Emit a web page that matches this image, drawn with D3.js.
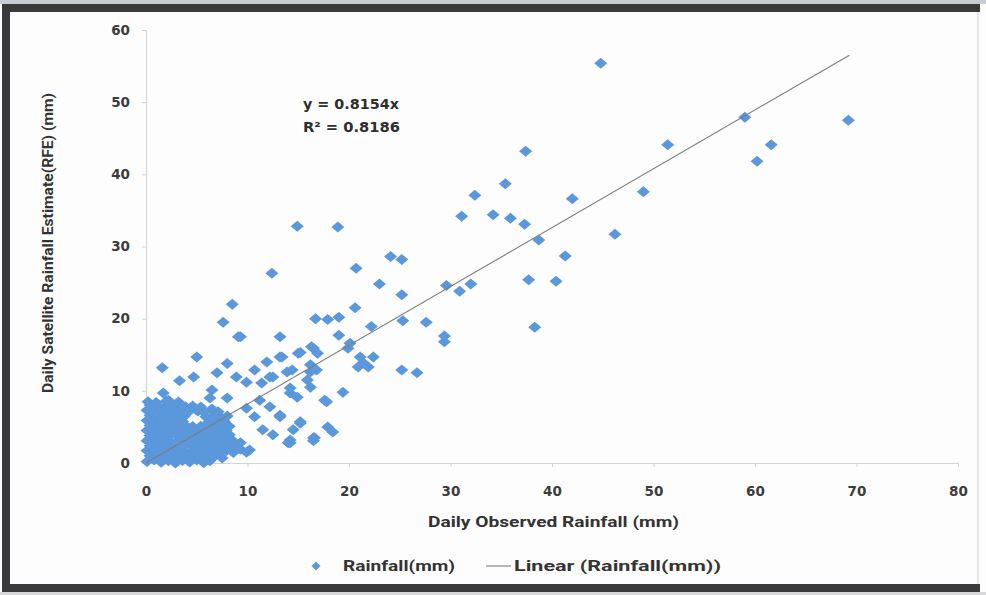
<!DOCTYPE html>
<html><head><meta charset="utf-8">
<script src="https://cdn.jsdelivr.net/npm/d3@7/dist/d3.min.js"></script>
<style>html,body{margin:0;padding:0;background:#fff;}svg{display:block;}</style>
</head><body>
<script>
// ---- data ----
const xTicks = [0,10,20,30,40,50,60,70,80];
const yTicks = [0,10,20,30,40,50,60];
const xTitle = "Daily Observed Rainfall (mm)";
const yTitle = "Daily Satellite Rainfall Estimate(RFE) (mm)";
const seriesName = "Rainfall(mm)";
const trendName = "Linear (Rainfall(mm))";
const slope = 0.8154;
const r2 = 0.8186;
const trendRange = [0, 69.3];

// observed (x) values
const obsX = [
 44.8,59.0,69.2,51.4,61.6,60.2,37.4,35.4,32.4,49.0,42.0,31.1,34.2,35.9,37.3,38.7,46.2,41.3,40.4,37.7,38.3,
 14.9,18.9,12.4,24.1,25.2,20.7,23.0,25.2,20.6,16.7,17.9,19.0,22.2,25.3,27.6,19.0,13.2,9.3,16.3,20.1,19.9,15.2,16.9,
 21.1,22.4,21.4,21.9,20.9,13.2,11.9,10.7,14.4,16.2,16.8,25.2,26.7,12.5,9.9,11.4,14.2,15.9,14.2,14.9,16.2,19.4,17.6,
 11.2,12.2,13.2,9.9,10.7,15.2,14.5,17.9,18.4,11.5,16.6,12.5,14.2,29.6,30.9,32.0,29.4,29.4,
 7.6,8.5,9.1,1.6,3.3,4.7,7.0,8.0,8.9,6.5,1.7,2.2,6.3,8.0,5.0,13.4,15.0,16.5,12.2,13.9,16.2,17.8,13.2,15.2,14.2,16.5,
 10.2,9.3,9.9,14.0,16.5,
 0.1,0.8,1.5,2.2,2.9,3.6,4.3,5.0,5.7,6.3,
 0.4,1.2,1.8,2.6,3.2,3.9,4.7,5.3,6.1,6.7,7.5,
 0.1,0.9,1.5,2.3,2.9,3.7,4.3,5.1,5.7,6.5,7.1,7.9,8.6,9.3,
 0.4,1.1,1.9,2.5,3.3,3.9,4.7,5.3,6.1,6.7,7.5,8.1,8.9,
 0.1,0.9,1.5,2.3,2.9,3.7,4.3,5.1,5.7,6.5,7.1,7.9,8.5,
 0.4,1.1,1.9,2.5,3.3,3.9,4.7,5.3,6.1,6.7,7.5,8.2,
 0.1,0.9,1.5,2.3,2.9,3.7,4.3,5.1,5.7,6.5,7.1,7.9,
 0.4,1.1,1.9,2.5,3.3,3.9,4.6,5.4,6.0,6.8,7.4,8.2,
 0.1,0.9,1.5,2.3,2.9,3.6,6.2,6.9,7.7,
 0.4,1.1,1.9,2.5,3.3,3.8,5.9,6.7,7.3,8.0,
 0.1,0.9,1.5,2.3,2.9,3.7,4.3,5.1,5.7,6.5,7.1,
 0.4,1.1,1.9,2.5,3.3,3.9,4.6,5.4,6.5,
 0.2,1.0,2.0,3.2
];
// satellite estimate (y) values
const rfeY = [
 55.4,47.9,47.5,44.1,44.1,41.8,43.2,38.7,37.1,37.6,36.6,34.2,34.4,33.9,33.1,30.9,31.7,28.7,25.2,25.4,18.8,
 32.8,32.7,26.3,28.6,28.2,27.0,24.8,23.3,21.5,20.0,19.9,20.2,18.9,19.7,19.5,17.7,17.5,17.5,16.1,16.6,15.9,15.3,15.2,
 14.7,14.7,13.9,13.3,13.3,14.7,14.0,12.9,12.9,13.6,12.9,12.9,12.5,11.9,11.2,11.1,10.4,11.5,9.7,9.1,10.5,9.8,8.7,
 8.7,7.8,6.6,7.6,6.4,5.5,4.6,5.0,4.3,4.6,3.5,3.9,2.8,24.6,23.8,24.8,17.6,16.8,
 19.5,22.0,17.5,13.2,11.4,11.9,12.5,13.8,11.9,10.1,9.7,8.7,9.0,9.0,14.7,14.7,15.2,15.9,11.9,12.6,12.6,8.5,6.4,5.7,3.2,3.5,
 1.8,2.8,1.5,2.8,3.1,
 0.2,0.4,0.1,0.3,0.0,0.35,0.15,0.4,0.05,0.3,
 1.0,0.8,1.1,0.7,1.0,0.85,1.1,0.75,1.0,0.9,0.7,
 1.7,1.5,1.8,1.5,1.6,1.8,1.4,1.65,1.5,1.8,1.55,1.7,1.45,1.9,
 2.4,2.2,2.5,2.3,2.15,2.45,2.3,2.2,2.5,2.25,2.4,2.2,2.45,
 3.1,2.9,3.2,3.0,2.85,3.15,3.0,2.9,3.2,2.95,3.1,2.9,3.15,
 3.8,3.6,3.75,3.9,3.6,3.8,3.65,3.85,3.6,3.8,3.7,3.9,
 4.5,4.3,4.55,4.35,4.5,4.3,4.45,4.6,4.35,4.5,4.3,4.5,
 5.2,5.0,5.15,5.25,5.0,5.2,5.05,5.1,5.25,5.0,5.2,5.1,
 5.9,5.7,5.85,5.75,5.95,5.8,5.7,5.9,5.8,
 6.6,6.4,6.55,6.45,6.6,6.5,6.4,6.6,6.45,6.5,
 7.3,7.1,7.25,7.15,7.3,7.1,7.25,7.2,7.05,7.3,7.1,
 8.0,7.8,7.95,7.85,8.0,7.8,7.9,7.75,7.5,
 8.5,8.4,8.6,8.45
];

// ---- layout ----
const W = 986, H = 595;
const svg = d3.select("body").append("svg").attr("width", W).attr("height", H);

// scanned frame
svg.append("rect").attr("x",0).attr("y",0).attr("width",W).attr("height",H).attr("fill","#fdfdfd");
svg.append("rect").attr("x",0).attr("y",0).attr("width",W).attr("height",4).attr("fill","#c9ccd2");
svg.append("rect").attr("x",2).attr("y",4).attr("width",W-8).attr("height",8).attr("fill","#3a3a3c");
svg.append("rect").attr("x",2).attr("y",4).attr("width",8).attr("height",588).attr("fill","#3a3a3c");
svg.append("rect").attr("x",2).attr("y",584).attr("width",W-8).attr("height",8).attr("fill","#3a3a3c");
svg.append("rect").attr("x",0).attr("y",592).attr("width",W).attr("height",3).attr("fill","#d8d8dc");
svg.append("rect").attr("x",977).attr("y",12).attr("width",2).attr("height",572).attr("fill","#e6e6e8");

const x = d3.scaleLinear().domain([0,80]).range([146,958]);
const y = d3.scaleLinear().domain([0,60]).range([463,30]);

const tickFont = "DejaVu Sans, Verdana, sans-serif";
const narrowFont = "Roboto, 'Liberation Sans', sans-serif";

// axes
const gx = svg.append("g").attr("transform",`translate(0,${y(0)})`)
  .call(d3.axisBottom(x).tickValues(xTicks).tickSize(4).tickPadding(19).tickFormat(d3.format("d")));
const gy = svg.append("g").attr("transform",`translate(${x(0)},0)`)
  .call(d3.axisLeft(y).tickValues(yTicks).tickSize(4).tickPadding(12).tickFormat(d3.format("d")));
[gx,gy].forEach(g=>{
  g.select(".domain").attr("stroke","#d4d4d4");
  g.selectAll(".tick line").attr("stroke","#d4d4d4");
  g.selectAll("text").attr("fill","#3c3c3c").attr("font-family",tickFont)
   .attr("font-weight","bold").attr("font-size",13.5);
});
gx.selectAll("text").attr("dy","0.71em");

// points
const pts = obsX.map((v,i)=>[v, rfeY[i]]);
const diamond = "M0,-5.5L6.5,0L0,5.5L-6.5,0Z";
svg.append("g").selectAll("path").data(pts).join("path")
  .attr("d",diamond)
  .attr("transform",d=>`translate(${x(d[0])},${y(d[1])})`)
  .attr("fill","#5b97db");

// trend line
svg.append("line")
  .attr("x1",x(trendRange[0])).attr("y1",y(slope*trendRange[0]))
  .attr("x2",x(trendRange[1])).attr("y2",y(slope*trendRange[1]))
  .attr("stroke","#7d7d7d").attr("stroke-width",1.1);

// text with a fixed drawn width (narrow Calibri-like look)
function label(parent, txt, attrs, width){
  const t = parent.append("text").text(txt);
  Object.entries(attrs).forEach(([k,v])=>t.attr(k,v));
  t.attr("textLength", width).attr("lengthAdjust","spacingAndGlyphs");
  return t;
}

// equation
const eq = svg.append("g").attr("font-family",tickFont).attr("font-weight","bold").attr("fill","#2e2e2e").attr("font-size",13.5);
label(eq, `y = ${slope}x`, {x:303, y:109}, 96);
label(eq, `R² = ${r2}`, {x:303, y:132}, 97);

// axis titles
const tAttrs = {"font-family":narrowFont, "font-weight":"bold", "font-size":15.5, "fill":"#333"};
label(svg, xTitle, Object.assign({x:428, y:527}, tAttrs), 251);
const yt = svg.append("g").attr("transform","translate(53,393) rotate(-90)");
label(yt, yTitle, Object.assign({x:0, y:0}, tAttrs), 300);

// legend
const lg = svg.append("g");
lg.append("path").attr("d","M0,-4.5L4.5,0L0,4.5L-4.5,0Z").attr("transform","translate(316,566)").attr("fill","#5b97db");
label(lg, seriesName, Object.assign({x:343, y:571}, tAttrs), 112);
lg.append("line").attr("x1",486).attr("x2",511).attr("y1",566).attr("y2",566).attr("stroke","#7d7d7d").attr("stroke-width",1.1);
label(lg, trendName, Object.assign({x:514, y:571}, tAttrs), 207);
</script>
</body></html>
